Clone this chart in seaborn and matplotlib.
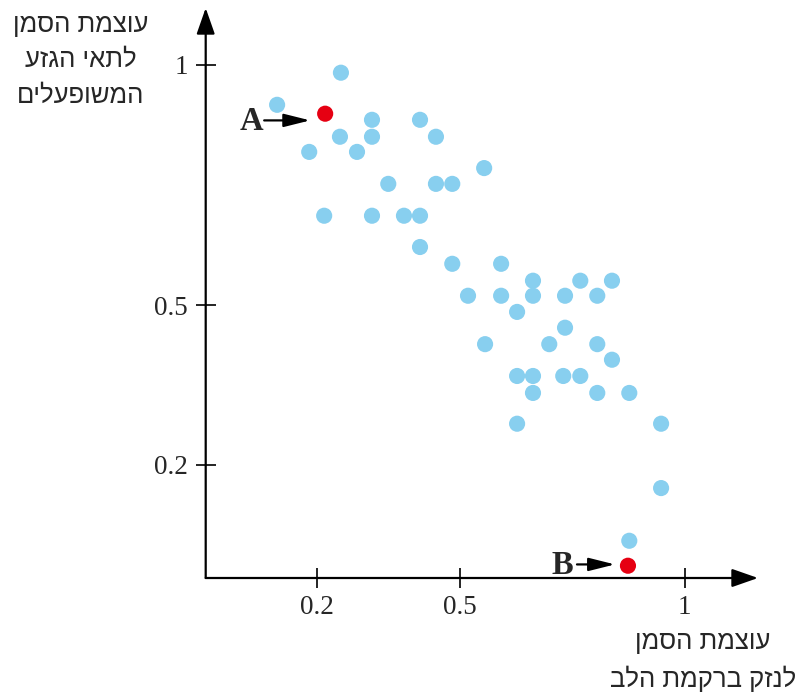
import numpy as np
import pandas as pd
import matplotlib
matplotlib.use('Agg')
import matplotlib.pyplot as plt
import matplotlib.transforms as mtransforms
import seaborn as sns

# marker intensity: cardiac damage (x) vs activated stem cells (y)
heart_damage = [0.122, 0.249, 0.313, 0.414, 0.185, 0.247, 0.313, 0.282, 0.448, 0.347,
                0.448, 0.483, 0.552, 0.215, 0.313, 0.380, 0.414, 0.414, 0.483, 0.589,
                0.517, 0.589, 0.659, 0.659, 0.764, 0.835, 0.730, 0.802, 0.624, 0.730,
                0.554, 0.695, 0.802, 0.835, 0.624, 0.659, 0.726, 0.764, 0.659, 0.802,
                0.874, 0.624, 0.946, 0.946, 0.874]
stem_cells = [0.914, 0.983, 0.882, 0.882, 0.814, 0.846, 0.846, 0.814, 0.846, 0.747,
              0.747, 0.747, 0.780, 0.681, 0.681, 0.681, 0.681, 0.617, 0.583, 0.583,
              0.519, 0.519, 0.549, 0.519, 0.549, 0.549, 0.519, 0.519, 0.487, 0.456,
              0.424, 0.424, 0.424, 0.394, 0.363, 0.363, 0.363, 0.363, 0.331, 0.331,
              0.331, 0.274, 0.274, 0.160, 0.074]

# the two highlighted patients
marked_names = ['A', 'B']
marked_x = [0.217, 0.871]
marked_y = [0.895, 0.037]

x_ticks = [0.2, 0.5, 1]
y_ticks = [0.2, 0.5, 1]
x_tick_labels = ['0.2', '0.5', '1']
y_tick_labels = ['0.2', '0.5', '1']

y_label = ['עוצמת הסמן', 'לתאי הגזע', 'המשופעלים']
x_label = ['עוצמת הסמן', 'לנזק ברקמת הלב']

df = pd.DataFrame({
    'x': heart_damage + marked_x,
    'y': stem_cells + marked_y,
    'group': ['other'] * len(heart_damage) + ['marked'] * len(marked_x),
})


def heb(lines):
    # matplotlib has no bidi support, so put the Hebrew in visual order
    return '\n'.join(line[::-1] for line in lines)


def power_scale(p):
    fwd = lambda v: np.sign(v) * np.abs(v) ** p
    inv = lambda v: np.sign(v) * np.abs(v) ** (1 / p)
    return fwd, inv


sns.set_style('white')
plt.rcParams['font.family'] = ['Liberation Serif', 'DejaVu Serif']

fig = plt.figure(figsize=(7.98, 6.95), dpi=100)
ax = fig.add_axes([205.7 / 798, 117 / 695, (758 - 205.7) / 798, (578 - 8) / 695])

sns.scatterplot(data=df, x='x', y='y', hue='group',
                palette={'other': '#88CFEF', 'marked': '#E60012'},
                s=135, edgecolor='none', linewidth=0, legend=False, ax=ax,
                clip_on=False, zorder=3)

ax.set_xscale('function', functions=power_scale(0.92))
ax.set_yscale('function', functions=power_scale(0.87))
ax.set_xlim(-0.0035, 1.168)
ax.set_ylim(0.0203, 1.124)

for s in ax.spines.values():
    s.set_visible(False)

# axes drawn as arrows
arrow = dict(arrowstyle='-|>,head_length=0.8,head_width=0.28', lw=1.6, color='black',
             mutation_scale=20, shrinkA=0, shrinkB=0)
ax.annotate('', xy=(1, 0), xytext=(0, 0), xycoords='axes fraction', arrowprops=arrow)
ax.annotate('', xy=(0, 1), xytext=(0, 0), xycoords='axes fraction', arrowprops=arrow)

ax.set_xticks(x_ticks)
ax.set_xticklabels(x_tick_labels)
ax.set_yticks(y_ticks)
ax.set_yticklabels(y_tick_labels)
ax.tick_params(axis='both', direction='inout', length=14, width=1.2, color='black',
               labelsize=19.5, left=True, bottom=True)
ax.tick_params(axis='x', pad=5)
ax.tick_params(axis='y', pad=6)
ax.set_xlabel('')
ax.set_ylabel('')

# A / B pointers
offsets = {'A': dict(text=(-74, -7.7), tail=-61, tip=(-15, -6.7)),
           'B': dict(text=(-65.6, 0.3), tail=-51, tip=(-13, 1.3))}
small_arrow = dict(arrowstyle='-|>,head_length=0.8,head_width=0.2', lw=1.6, color='black',
                   mutation_scale=20, shrinkA=0, shrinkB=0)
for name, mx, my in zip(marked_names, marked_x, marked_y):
    o = offsets[name]
    t_text = ax.transData + mtransforms.ScaledTranslation(o['text'][0] / 100, o['text'][1] / 100, fig.dpi_scale_trans)
    t_tail = ax.transData + mtransforms.ScaledTranslation(o['tail'] / 100, o['tip'][1] / 100, fig.dpi_scale_trans)
    t_tip = ax.transData + mtransforms.ScaledTranslation(o['tip'][0] / 100, o['tip'][1] / 100, fig.dpi_scale_trans)
    ax.text(mx, my, name, transform=t_text, ha='center', va='center',
            fontsize=23.5, fontweight='bold', family='Liberation Serif')
    ax.annotate('', xy=(mx, my), xycoords=t_tip, xytext=(mx, my), textcoords=t_tail,
                arrowprops=small_arrow)

heb_font = ['Liberation Sans', 'DejaVu Sans']
fig.text(81 / 798, 1 - 60 / 695, heb(y_label), ha='center', va='center',
         fontsize=18.5, family=heb_font, linespacing=1.6)
fig.text(703 / 798, 1 - 661 / 695, heb(x_label), ha='center', va='center',
         fontsize=18.5, family=heb_font, linespacing=1.55)

fig.savefig('out.png', dpi=100)
